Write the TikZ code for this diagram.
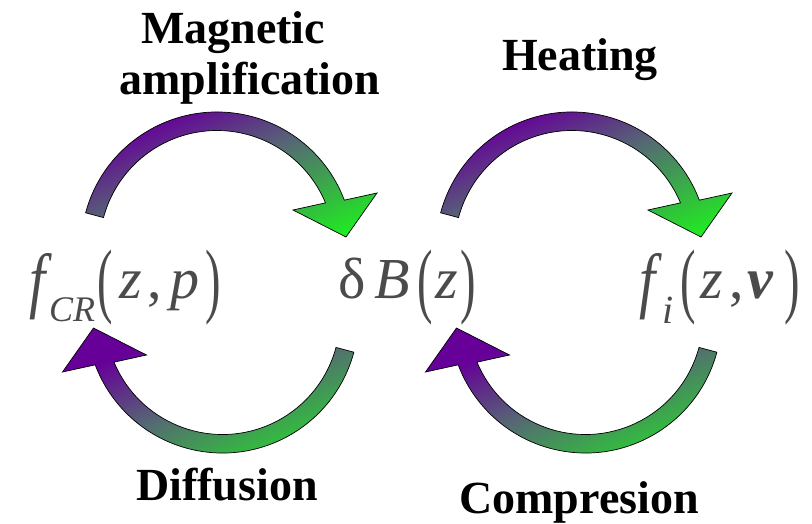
\documentclass[tikz,border=0pt]{standalone}
\usepackage{fontspec}
\setmainfont{Liberation Serif}
\usepackage{graphicx}
\definecolor{purp}{RGB}{102,0,153}
\definecolor{grn}{RGB}{30,240,30}
\definecolor{midc}{RGB}{85,105,115}
\definecolor{txtgray}{RGB}{75,75,75}
\pgfdeclareverticalshading{pgshade}{100bp}{color(0bp)=(grn); color(20bp)=(grn); color(50bp)=(midc); color(70bp)=(purp); color(100bp)=(purp)}
\newcommand\mylp{\raisebox{-9.5pt}{\scalebox{0.8}[1.43]{(}}}
\newcommand\myrp{\raisebox{-9.5pt}{\scalebox{0.8}[1.43]{)}}}
\newcommand\bigf{\raisebox{-6.5pt}{\scalebox{1}[1.25]{\itshape f}}}
\newcommand\pc[2]{\kern#1pt\makebox[0pt]{#2}}
\tikzset{
  arrowshape/.style={shade, shading=pgshade, shading angle=23, draw=black, line width=0.7pt, line join=miter},
  cyclearrow/.pic={
    \path[arrowshape, x=1pt, y=1pt] (165:136) arc[start angle=165, end angle=20.6, radius=136]
      -- (160,55) -- (129,11) -- (76,38) -- (22.6:117.5)
      arc[start angle=22.6, end angle=165, radius=117.5] -- cycle;
  },
  lbl/.style={font=\fontsize{46}{46}\selectfont\bfseries, anchor=base, inner sep=0pt},
  frm/.style={text=txtgray, inner sep=0pt, anchor=base west, font=\fontsize{58}{58}\selectfont}
}
\begin{document}
\begin{tikzpicture}[x=1pt, y=-1pt]
\path[fill=white] (0,0) rectangle (812,523);
\useasboundingbox (0,0) rectangle (812,523);
% arrows
\pic at (217,248) {cyclearrow};
\pic at (572,248) {cyclearrow};
\pic[rotate=180] at (222.5,317) {cyclearrow};
\pic[rotate=180] at (585.5,317) {cyclearrow};
% labels
\node[lbl] (mag) at (233,43) {Magnetic};
\node[lbl] (amp) at (250,94) {amplification};
\node[lbl] (heat) at (580,70) {Heating};
\node[lbl] (diff) at (227,500) {Diffusion};
\node[lbl] (comp) at (579,513) {Compresion};
% formulas
\node[frm] (fcr) at (37,298) {\pc{0}{\bigf}\pc{35}{\raisebox{-23pt}{\fontsize{36}{36}\selectfont\itshape CR}}\pc{33}{\mylp}\pc{26}{\itshape z}\pc{24}{,}\pc{30}{\itshape p}\pc{28}{\myrp}};
\node[frm] (db) at (352,298) {\pc{0}{δ}\pc{40}{\itshape B}\pc{33}{\mylp}\pc{22}{\itshape z}\pc{21}{\myrp}};
\node[frm] (fi) at (647,298) {\pc{0}{\bigf}\pc{21}{\raisebox{-25pt}{\fontsize{40}{40}\selectfont\itshape i}}\pc{20}{\mylp}\pc{24}{\itshape z}\pc{25}{,}\pc{23}{\bfseries\itshape v}\pc{32}{\myrp}};
\end{tikzpicture}
\end{document}
